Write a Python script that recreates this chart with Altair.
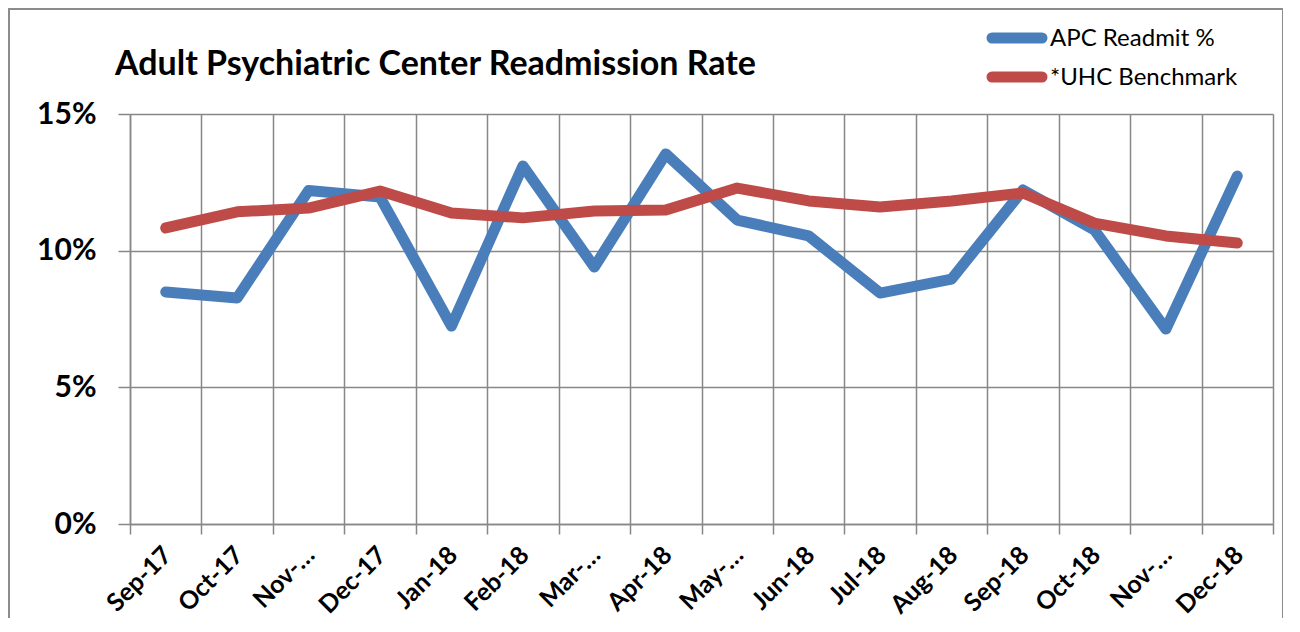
import altair as alt
import pandas as pd

months = ["Sep-17", "Oct-17", "Nov-17", "Dec-17", "Jan-18", "Feb-18", "Mar-18", "Apr-18",
          "May-18", "Jun-18", "Jul-18", "Aug-18", "Sep-18", "Oct-18", "Nov-18", "Dec-18"]
apc = [0.0849, 0.0827, 0.1220, 0.1196, 0.0724, 0.1310, 0.0940, 0.1354,
       0.1112, 0.1054, 0.0845, 0.0896, 0.1222, 0.1076, 0.0713, 0.1273]
uhc = [0.1083, 0.1142, 0.1156, 0.1218, 0.1138, 0.1120, 0.1145, 0.1149,
       0.1229, 0.1182, 0.1160, 0.1182, 0.1211, 0.1101, 0.1054, 0.1028]
series_names = ["APC Readmit %", "*UHC Benchmark"]
series_colors = ["#4A7EBB", "#BE4B48"]
truncated = ["Nov-17", "Mar-18", "May-18", "Nov-18"]
title_text = "Adult Psychiatric Center Readmission Rate"

rows = []
for m, a, u in zip(months, apc, uhc):
    rows.append({"month": m, "series": series_names[0], "value": a})
    rows.append({"month": m, "series": series_names[1], "value": u})
df = pd.DataFrame(rows)
legend_df = pd.DataFrame({"series": series_names})

FONT = "Lato"
GRID = "#878787"

trunc_expr = ("indexof(" + str(truncated).replace("'", '"') +
              ", datum.label) >= 0 ? slice(datum.label, 0, 4) + '\u2026' : datum.label")

x = alt.X("month:N", sort=months, title=None,
          scale=alt.Scale(type="band", paddingInner=0, paddingOuter=0),
          axis=alt.Axis(labelAngle=-45, labelFont=FONT, labelFontWeight="bold", labelFontSize=25,
                        labelColor="#000000", labelPadding=8, labelOffset=-7,
                        labelExpr=trunc_expr,
                        tickBand="extent", tickSize=10, tickColor=GRID, tickWidth=1.5,
                        domainColor=GRID, domainWidth=1.5, grid=True, gridColor=GRID,
                        gridWidth=1.5, labelAlign="right", labelBaseline="top",
                        labelOverlap=False, labelBound=False))
y = alt.Y("value:Q", title=None,
          scale=alt.Scale(domain=[0, 0.15], nice=False),
          axis=alt.Axis(values=[0, 0.05, 0.10, 0.15], format=".0%", labelFont=FONT,
                        labelFontWeight="bold", labelFontSize=30, labelColor="#000000",
                        labelPadding=22, tickSize=12, tickColor=GRID, tickWidth=1.5,
                        domainColor=GRID, domainWidth=1.5, grid=True, gridColor=GRID,
                        gridWidth=1.5))
color = alt.Color("series:N", scale=alt.Scale(domain=series_names, range=series_colors),
                  legend=None)

base = alt.Chart(df)
lines = alt.layer(
    base.transform_filter(alt.datum.series == series_names[0]).mark_line(
        strokeWidth=11, strokeCap="round", strokeJoin="round").encode(x=x, y=y, color=color),
    base.transform_filter(alt.datum.series == series_names[1]).mark_line(
        strokeWidth=11, strokeCap="round", strokeJoin="round").encode(x=x, y=y, color=color),
)

# manual legend (top right, above the plot area)
ly = alt.Y("series:N", scale=alt.Scale(type="point", padding=0, domain=series_names,
                                       range=[-76, -37]), axis=None)
leg_sym = alt.Chart(legend_df).mark_rule(strokeWidth=11, strokeCap="round").encode(
    x=alt.value(862), x2=alt.value(912), y=ly, color=color)
leg_txt = alt.Chart(legend_df).mark_text(
    font=FONT, fontSize=24, color="#000000", align="left", baseline="middle", dy=1).encode(
    x=alt.value(920), y=ly, text="series:N")
legend = alt.layer(leg_sym, leg_txt)

title = alt.Chart(pd.DataFrame({"t": [title_text]})).mark_text(
    font=FONT, fontSize=34, fontWeight="bold", color="#000000", align="left",
    baseline="alphabetic").encode(x=alt.value(-15), y=alt.value(-39), text="t:N")

border = alt.Chart(pd.DataFrame({"a": [0]})).mark_rect(
    fill=None, stroke="#8c8c8c", strokeWidth=2).encode(
    x=alt.value(-121), x2=alt.value(1153), y=alt.value(-105), y2=alt.value(520))

chart = alt.layer(lines, legend, title, border).resolve_scale(y="independent").properties(
    width=1143, height=410,
    autosize=alt.AutoSizeParams(type="none"),
    padding={"left": 122, "top": 106, "right": 10, "bottom": 94},
).configure_view(stroke="#4A7EBB", strokeWidth=1.5).configure(background="#ffffff")

chart.save("out.html", embed_options={"renderer": "svg", "actions": False})
